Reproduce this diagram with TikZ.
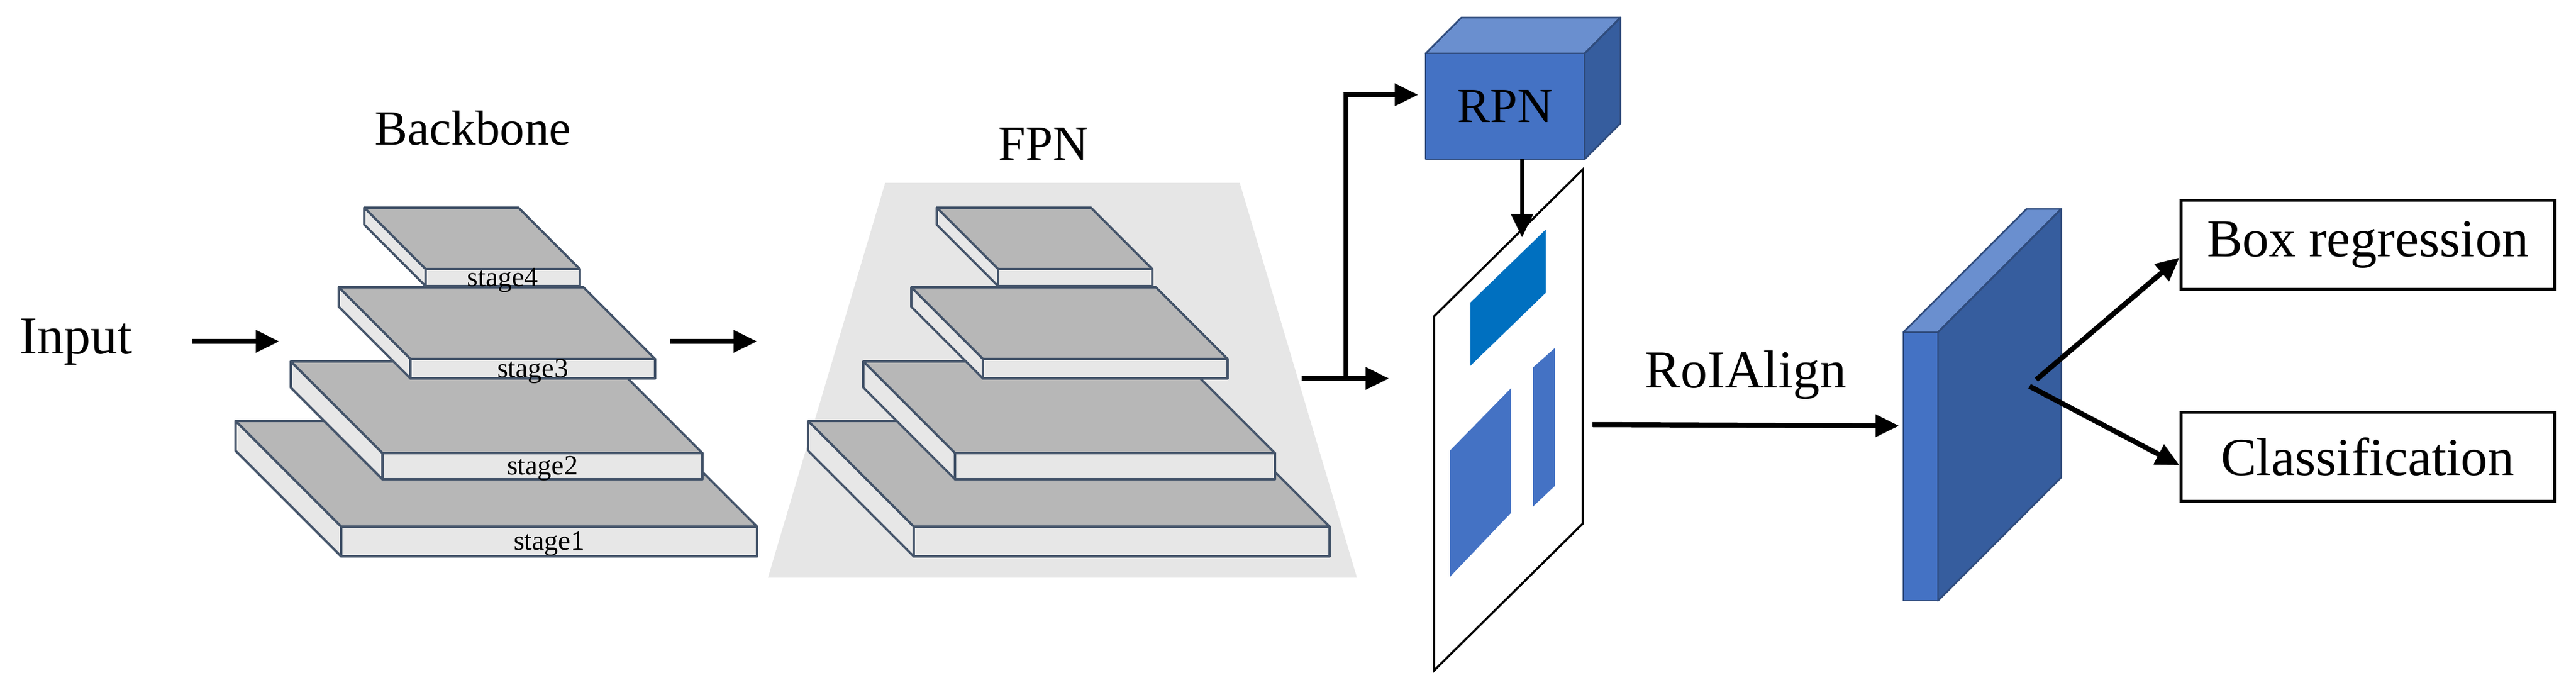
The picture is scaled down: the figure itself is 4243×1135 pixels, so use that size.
\documentclass[tikz,border=0pt]{standalone}
\usepackage{fontspec}
\setmainfont{Liberation Serif}
\usetikzlibrary{arrows.meta}
\usetikzlibrary{positioning}
\usetikzlibrary{calc}
\definecolor{slabTop}{HTML}{B7B7B7}
\definecolor{slabSide}{HTML}{E7E7E7}
\definecolor{slabLine}{HTML}{44546A}
\definecolor{fpnBack}{HTML}{E6E6E6}
\definecolor{blueFront}{HTML}{4472C4}
\definecolor{blueTop}{HTML}{6A8FCF}
\definecolor{blueSide}{HTML}{365D9E}
\definecolor{blueLine}{HTML}{2F4B7C}
\definecolor{roiDark}{HTML}{0070C0}
\tikzset{
   flow/.style={-{Triangle[length=11pt,width=10pt]},line width=2.4pt},
   slabtop/.style={fill=slabTop,draw=slabLine,line width=1.1pt,line join=round},
   slabside/.style={fill=slabSide,draw=slabLine,line width=1.1pt,line join=round},
   stagelab/.style={inner sep=0pt,font=\fontsize{13}{14}\selectfont},
   bigtext/.style={inner sep=0pt,font=\fontsize{25}{28}\selectfont},
   title/.style={inner sep=0pt,font=\fontsize{23}{26}\selectfont},
   cubeface/.style={draw=blueLine,line width=0.8pt,line join=round},
   outbox/.style={draw,line width=1.4pt,minimum width=6.15cm,minimum height=1.46cm,
     inner sep=0pt,font=\fontsize{25}{28}\selectfont},
}
% slab: name, front-left x, y, width, depth, thickness, label
\newcommand{\slab}[7]{
  \draw[slabtop]  (#2,#3) -- ++(-#5,-#5) -- ++(#4,0) -- ++(#5,#5) -- cycle;
  \draw[slabside] (#2,#3) -- ++(-#5,-#5) -- ++(0,#6) -- ++(#5,#5) -- cycle;
  \draw[slabside] (#2,#3) rectangle ++(#4,#6);
  \node[stagelab] (#1) at ({#2+#4/2},{#3+#6/2+4}) {#7};
}

\begin{document}
\begin{tikzpicture}[x=0.01cm,y=-0.01cm]
  \useasboundingbox (0,0) rectangle (4243,1135);

  \node[bigtext] (input) at (125,563) {Input};
  \node[title] (bbtitle) at (779,211) {Backbone};
  \node[title] (fpntitle) at (1719,237) {FPN};

  %% backbone
  \slab{st1}{562}{867}{685}{174}{49}{stage1}
  \slab{st2}{630}{746}{527}{151}{43}{stage2}
  \slab{st3}{676}{591}{403}{118}{32}{stage3}
  \slab{st4}{701}{443}{254}{101}{28}{stage4}

  %% fpn
  \fill[fpnBack] (1458,301) -- (2042,301) -- (2235,951) -- (1265,951) -- cycle;
  \slab{fp1}{1505}{867}{685}{174}{49}{}
  \slab{fp2}{1573}{746}{527}{151}{43}{}
  \slab{fp3}{1619}{591}{403}{118}{32}{}
  \slab{fp4}{1644}{443}{254}{101}{28}{}

  %% rpn cube
  \draw[cubeface,fill=blueTop]  (2348,88) -- ++(59,-59) -- ++(262,0) -- ++(-59,59) -- cycle;
  \draw[cubeface,fill=blueSide] (2610,88) -- ++(59,-59) -- ++(0,174) -- ++(-59,59) -- cycle;
  \draw[cubeface,fill=blueFront] (2348,88) rectangle (2610,262);
  \node[bigtext,font=\fontsize{23}{26}\selectfont] (rpn) at (2479,175) {RPN};

  %% proposal map
  \draw[line width=1pt,fill=white] (2362,521) -- (2607,279) -- (2607,862) -- (2362,1104) -- cycle;
  \fill[roiDark]   (2422,498) -- (2546,378) -- (2546,482) -- (2422,602) -- cycle;
  \fill[blueFront] (2388,742) -- (2489,639) -- (2489,844) -- (2388,950) -- cycle;
  \fill[blueFront] (2525,605) -- (2561,573) -- (2561,800) -- (2525,834) -- cycle;

  %% roi feature
  \draw[cubeface,fill=blueTop]   (3135,547) -- ++(203,-203) -- ++(57,0) -- ++(-203,203) -- cycle;
  \draw[cubeface,fill=blueSide]  (3192,547) -- ++(203,-203) -- ++(0,442) -- ++(-203,203) -- cycle;
  \draw[cubeface,fill=blueFront] (3135,547) rectangle (3192,989);

  %% heads
  \node[outbox] (boxreg) at (3900,403) {Box regression};
  \node[outbox] (cls) at (3900,752) {Classification};

  %% connectors
  \coordinate (in0) at (317,562);   \coordinate (in1) at (460,562);
  \coordinate (bb0) at (1104,562);  \coordinate (bb1) at (1247,562);
  \coordinate (fp0) at (2144,623);  \coordinate (fp1e) at (2288,623);
  \coordinate (br) at (2217,623);
  \coordinate (rpnin) at (2336,156);
  \coordinate (rpn0) at (2507,262); \coordinate (rpn1) at (2507,391);
  \coordinate (roi0) at (2623,699); \coordinate (roi1) at (3128,701);
  \coordinate (hd1) at (3354,625);  \coordinate (hd2) at (3343,636);

  \draw[flow] (in0) -- (in1);
  \draw[flow] (bb0) -- (bb1);
  \draw[flow] (fp0) -- (fp1e);
  \draw[flow] (br) |- (rpnin);
  \draw[flow,line width=2pt] (rpn0) -- (rpn1);
  \draw[flow] (roi0) -- node[bigtext,above=11pt] {RoIAlign} (roi1);
  \draw[flow] (hd1) -- (boxreg.west |- 0,424);
  \draw[flow] (hd2) -- (cls.west |- 0,766);
\end{tikzpicture}
\end{document}
